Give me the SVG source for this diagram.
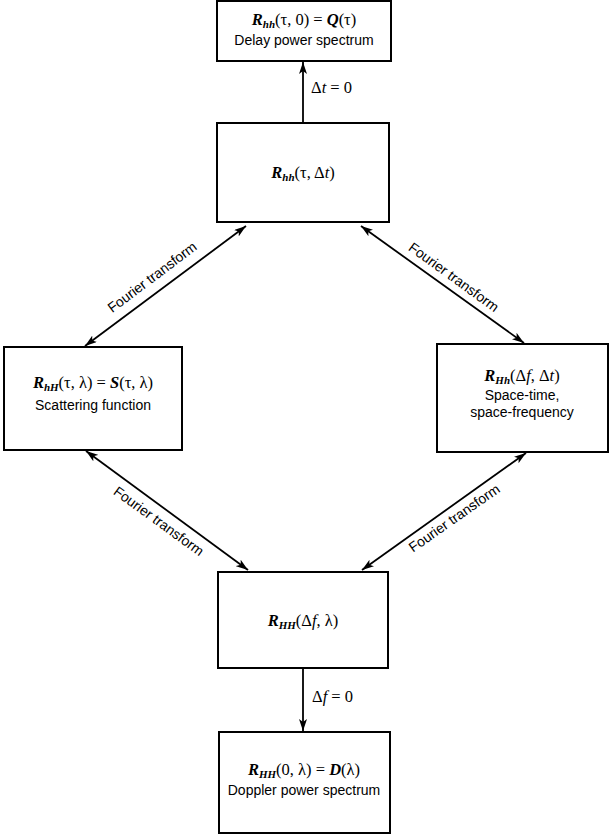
<svg xmlns="http://www.w3.org/2000/svg" width="612" height="835" viewBox="0 0 612 835">
<style>
.box{fill:#fff;stroke:#000;stroke-width:2}
.ln{stroke:#000;stroke-width:1.8;fill:none}
.lbl{font-family:"Liberation Sans",Arial,sans-serif;font-size:14px;fill:#000}
.m{font-family:"Liberation Serif","Times New Roman",serif;font-size:16.5px;fill:#000}
.i{font-style:italic;font-weight:bold}
.s{font-size:11px;font-style:italic;font-weight:bold}
</style>
<defs>
<marker id="ah" viewBox="0 0 12 8" refX="12" refY="4" markerWidth="12" markerHeight="8" markerUnits="userSpaceOnUse" orient="auto-start-reverse">
<path d="M0,0 L12,4 L0,8 L3,4 z" fill="#000"/>
</marker>
</defs>
<g id="connectors">
<line class="ln" x1="303" y1="124" x2="303" y2="62" marker-end="url(#ah)"/>
<line class="ln" x1="303" y1="668" x2="303" y2="731" marker-end="url(#ah)"/>
<line class="ln" x1="85" y1="346" x2="246" y2="226" marker-start="url(#ah)" marker-end="url(#ah)"/>
<line class="ln" x1="361" y1="226" x2="524" y2="343" marker-start="url(#ah)" marker-end="url(#ah)"/>
<line class="ln" x1="86" y1="451" x2="248" y2="570" marker-start="url(#ah)" marker-end="url(#ah)"/>
<line class="ln" x1="526" y1="453" x2="362" y2="570" marker-start="url(#ah)" marker-end="url(#ah)"/>
<text class="m" x="311" y="93">Δ<tspan font-style="italic">t</tspan> = 0</text>
<text class="m" x="312" y="702">Δ<tspan font-style="italic">f</tspan> = 0</text>
<text class="lbl" text-anchor="middle" transform="translate(155,281) rotate(-37)">Fourier transform</text>
<text class="lbl" text-anchor="middle" transform="translate(451,281) rotate(36)">Fourier transform</text>
<text class="lbl" text-anchor="middle" transform="translate(156,525) rotate(36)">Fourier transform</text>
<text class="lbl" text-anchor="middle" transform="translate(457,522) rotate(-35)">Fourier transform</text>
</g>
<g id="n_top">
<rect class="box" x="217" y="1" width="174" height="60"/>
<text class="m" x="304" y="25" text-anchor="middle"><tspan class="i">R</tspan><tspan class="s" dy="3">hh</tspan><tspan dy="-3">(τ, 0) = </tspan><tspan class="i">Q</tspan>(τ)</text>
<text class="lbl" x="304" y="45" text-anchor="middle">Delay power spectrum</text>
</g>
<g id="n_hh">
<rect class="box" x="217" y="123" width="172" height="99"/>
<text class="m" x="303" y="178" text-anchor="middle"><tspan class="i">R</tspan><tspan class="s" dy="3">hh</tspan><tspan dy="-3">(τ, Δ</tspan><tspan font-style="italic">t</tspan>)</text>
</g>
<g id="n_left">
<rect class="box" x="4" y="347" width="178" height="103"/>
<text class="m" x="93" y="388" text-anchor="middle"><tspan class="i">R</tspan><tspan class="s" dy="3">hH</tspan><tspan dy="-3">(τ, λ) = </tspan><tspan class="i">S</tspan>(τ, λ)</text>
<text class="lbl" x="93" y="410" text-anchor="middle">Scattering function</text>
</g>
<g id="n_right">
<rect class="box" x="437" y="344" width="171" height="108"/>
<text class="m" x="522" y="381" text-anchor="middle"><tspan class="i">R</tspan><tspan class="s" dy="3">Hh</tspan><tspan dy="-3">(Δ</tspan><tspan font-style="italic">f</tspan>, Δ<tspan font-style="italic">t</tspan>)</text>
<text class="lbl" x="522" y="400" text-anchor="middle">Space-time,</text>
<text class="lbl" x="522" y="417" text-anchor="middle">space-frequency</text>
</g>
<g id="n_HH">
<rect class="box" x="218" y="572" width="170" height="96"/>
<text class="m" x="303" y="626" text-anchor="middle"><tspan class="i">R</tspan><tspan class="s" dy="3">HH</tspan><tspan dy="-3">(Δ</tspan><tspan font-style="italic">f</tspan>, λ)</text>
</g>
<g id="n_bottom">
<rect class="box" x="219" y="732" width="171" height="101"/>
<text class="m" x="304" y="775" text-anchor="middle"><tspan class="i">R</tspan><tspan class="s" dy="3">HH</tspan><tspan dy="-3">(0, λ) = </tspan><tspan class="i">D</tspan>(λ)</text>
<text class="lbl" x="304" y="795" text-anchor="middle">Doppler power spectrum</text>
</g>
</svg>
